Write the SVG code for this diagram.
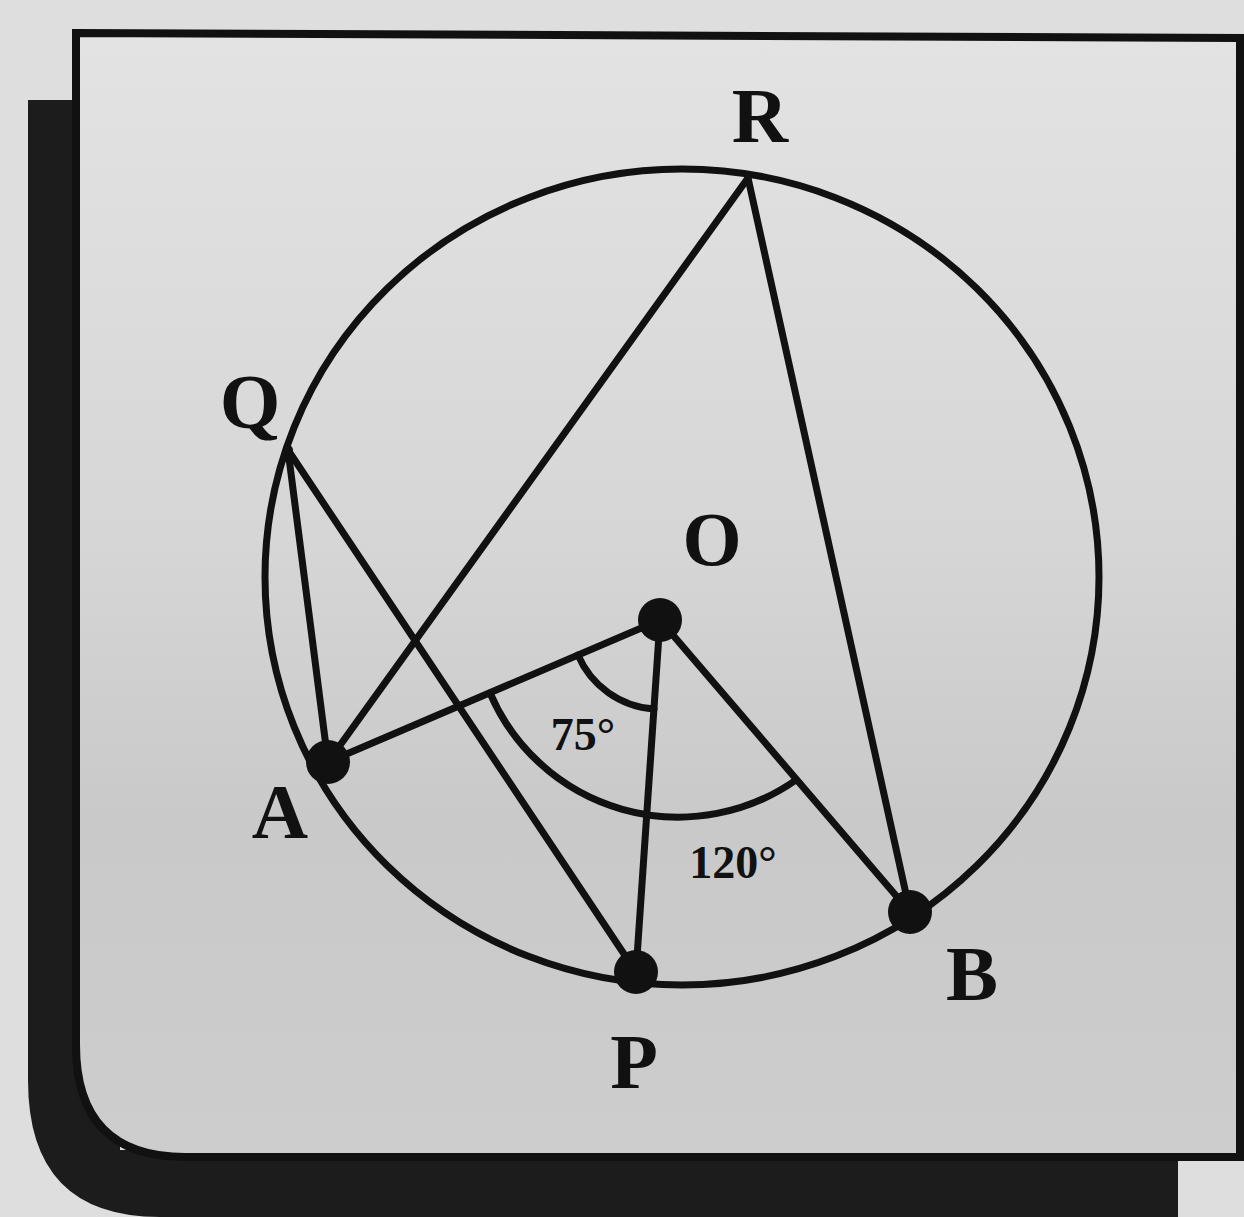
<svg xmlns="http://www.w3.org/2000/svg" width="1244" height="1217" viewBox="0 0 1244 1217">
<defs>
<linearGradient id="panel" x1="0" y1="0" x2="0" y2="1">
<stop offset="0" stop-color="#e3e3e3"/>
<stop offset="0.45" stop-color="#d6d6d6"/>
<stop offset="0.7" stop-color="#c9c9c9"/>
<stop offset="1" stop-color="#cdcdcd"/>
</linearGradient>
<style>
.ln{stroke:#111;stroke-width:7;fill:none;stroke-linecap:round}
.dot{fill:#111}
.lbl{font-family:"Liberation Serif","DejaVu Serif",serif;font-weight:bold;fill:#111}
</style>
</defs>
<rect width="1244" height="1217" fill="#dedede"/>
<!-- shadow -->
<path id="shadow" d="M28,100 H120 V1150 H1178 V1217 H160 Q28,1217 28,1080 Z" fill="#1c1c1c"/>
<!-- panel -->
<path id="panel-frame" d="M76,33 L1240,38 L1240,1157 L185,1157 Q76,1157 76,1045 Z" fill="url(#panel)" stroke="#111" stroke-width="8"/>
<g id="circle"><ellipse cx="682" cy="577" rx="417" ry="408" class="ln"/></g>
<g id="connectors">
<line x1="748" y1="178" x2="328" y2="762" class="ln"/>
<line x1="748" y1="178" x2="910" y2="912" class="ln"/>
<line x1="288" y1="450" x2="328" y2="762" class="ln"/>
<line x1="288" y1="450" x2="636" y2="972" class="ln"/>
<line x1="660" y1="620" x2="328" y2="762" class="ln"/>
<line x1="660" y1="620" x2="636" y2="972" class="ln"/>
<line x1="660" y1="620" x2="910" y2="912" class="ln"/>
<path d="M578,655 A89,89 0 0 0 654,709" class="ln"/>
<path d="M490,693 A205,205 0 0 0 796,780" class="ln"/>
</g>
<g id="node-R"><text x="760" y="142" class="lbl" font-size="78" text-anchor="middle">R</text></g>
<g id="node-Q"><text x="250" y="428" class="lbl" font-size="78" text-anchor="middle">Q</text><circle cx="288" cy="450" r="5" class="dot"/></g>
<g id="node-O"><text x="712" y="565" class="lbl" font-size="76" text-anchor="middle">O</text><circle cx="660" cy="620" r="22" class="dot"/></g>
<g id="node-A"><text x="280" y="838" class="lbl" font-size="78" text-anchor="middle">A</text><circle cx="328" cy="762" r="22" class="dot"/></g>
<g id="node-B"><text x="972" y="1000" class="lbl" font-size="78" text-anchor="middle">B</text><circle cx="910" cy="912" r="22" class="dot"/></g>
<g id="node-P"><text x="634" y="1088" class="lbl" font-size="78" text-anchor="middle">P</text><circle cx="636" cy="972" r="22" class="dot"/></g>
<g id="angle-75"><text x="583" y="750" class="lbl" font-size="46" text-anchor="middle">75°</text></g>
<g id="angle-120"><text x="733" y="878" class="lbl" font-size="46" text-anchor="middle">120°</text></g>
</svg>
